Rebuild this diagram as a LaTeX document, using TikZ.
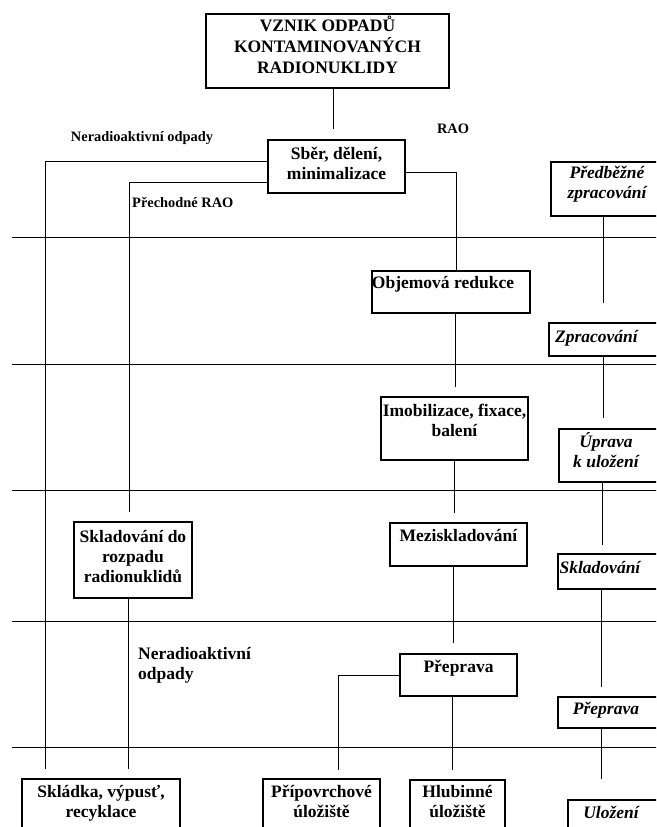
\documentclass[tikz,border=0pt]{standalone}
\usepackage{fontspec}
\setmainfont{Liberation Serif}
\usetikzlibrary{positioning}

\begin{document}
\begin{tikzpicture}[x=1pt, y=-1pt,
    box/.style={draw, rectangle, line width=1.1pt, inner sep=0pt},
    boxtext/.style={font=\bfseries\fontsize{17.5}{20}\selectfont, align=center, anchor=north, inner sep=0pt},
    stagetext/.style={font=\bfseries\itshape\fontsize{17.5}{20}\selectfont, align=center, anchor=north, inner sep=0pt},
    note/.style={font=\bfseries\fontsize{14.4}{17}\selectfont, inner sep=0pt},
    link/.style={line width=1pt},
    level/.style={line width=1pt}]
    \useasboundingbox (0,0) rectangle (656,827);
    \clip (0,0) rectangle (656,827);

    % Stage separators
    \foreach \y in {237,364,490,621,747}
        \draw[level] (12,\y) -- (670,\y);

    % Origin of the waste
    \node[box, minimum width=243pt, minimum height=74pt] (vznik) at (327.5,51) {};
    \node[boxtext, font=\bfseries\fontsize{17.5}{21}\selectfont] (vznik-t) at ([yshift=-2.5pt]vznik.north) {VZNIK ODPADŮ\\KONTAMINOVANÝCH\\RADIONUKLIDY};

    % Collection
    \node[box, minimum width=137pt, minimum height=53pt] (sber) at (336.5,166.5) {};
    \node[boxtext] (sber-t) at ([yshift=-7.5pt]sber.north) {Sběr, dělení,\\minimalizace};

    % Main RAO column
    \node[box, minimum width=158pt, minimum height=42pt] (objem) at (451,292) {};
    \node[boxtext] (objem-t) at ([xshift=-8pt, yshift=-6pt]objem.north) {Objemová redukce};
    \node[box, minimum width=147pt, minimum height=63pt] (imob) at (454.5,428.5) {};
    \node[boxtext] (imob-t) at ([yshift=-7.5pt]imob.north) {Imobilizace, fixace,\\balení};
    \node[box, minimum width=137pt, minimum height=43pt] (mezi) at (458.5,544.5) {};
    \node[boxtext] (mezi-t) at ([yshift=-6.5pt]mezi.north) {Meziskladování};
    \node[box, minimum width=117pt, minimum height=42pt] (prep) at (458.5,675) {};
    \node[boxtext] (prep-t) at ([yshift=-6.5pt]prep.north) {Přeprava};

    % Decay storage
    \node[box, minimum width=118pt, minimum height=76pt] (sklroz) at (133,560) {};
    \node[boxtext] (sklroz-t) at ([yshift=-8.5pt]sklroz.north) {Skladování do\\rozpadu\\radionuklidů};

    % Final destinations
    \node[box, minimum width=158pt, minimum height=66pt] (skladka) at (101,812) {};
    \node[boxtext] (skladka-t) at ([yshift=-6.5pt]skladka.north) {Skládka, výpusť,\\recyklace};
    \node[box, minimum width=117pt, minimum height=66pt] (pripovrch) at (321.5,812) {};
    \node[boxtext] (pripovrch-t) at ([yshift=-6.5pt]pripovrch.north) {Přípovrchové\\úložiště};
    \node[box, minimum width=95pt, minimum height=65pt] (hlub) at (457.5,812.5) {};
    \node[boxtext] (hlub-t) at ([yshift=-5.5pt]hlub.north) {Hlubinné\\úložiště};

    % Stage names on the right (cut by the page edge)
    \node[box, minimum width=139pt, minimum height=54pt] (predb) at (620.5,189) {};
    \node[stagetext] (predb-t) at ([xshift=-13.5pt, yshift=-4.5pt]predb.north) {Předběžné\\zpracování};
    \node[box, minimum width=141pt, minimum height=33pt] (zprac) at (619.5,339.5) {};
    \node[stagetext] (zprac-t) at ([xshift=-23pt, yshift=-7.5pt]zprac.north) {Zpracování};
    \node[box, minimum width=131pt, minimum height=53pt] (uprava) at (624.5,455.5) {};
    \node[stagetext] (uprava-t) at ([xshift=-18.5pt, yshift=-4pt]uprava.north) {Úprava\\k uložení};
    \node[box, minimum width=132pt, minimum height=35pt] (sklad) at (624,571.5) {};
    \node[stagetext] (sklad-t) at ([xshift=-24pt, yshift=-7.5pt]sklad.north) {Skladování};
    \node[box, minimum width=132pt, minimum height=31pt] (prepr) at (624,712.5) {};
    \node[stagetext] (prepr-t) at ([xshift=-18pt, yshift=-5.5pt]prepr.north) {Přeprava};
    \node[box, minimum width=122pt, minimum height=45pt] (ulozeni) at (629,822.5) {};
    \node[stagetext] (ulozeni-t) at ([xshift=-18pt, yshift=-6.5pt]ulozeni.north) {Uložení};

    % Branch labels
    \node[note] (nerad) at (142,138) {Neradioaktivní odpady};
    \node[note] (rao) at (453,129) {RAO};
    \node[note, anchor=west] (prech) at (132,202) {Přechodné RAO};
    \node[note, font=\bfseries\fontsize{17.5}{20}\selectfont, align=left, anchor=west] (nerad-dole) at (138,665) {Neradioaktivní\\odpady};

    % Open ends of the connectors
    \coordinate (vznik-end) at (333,129);
    \coordinate (waste-end) at (45,769);
    \coordinate (decay-end) at (129,512);
    \coordinate (objem-end) at (455,387);
    \coordinate (imob-end) at (454,513);
    \coordinate (mezi-end) at (453,643);
    \coordinate (prep-end) at (452,770);
    \coordinate (near-end) at (338,770);
    \coordinate (sklroz-end) at (128,769);
    \coordinate (predb-end) at (603,303);
    \coordinate (zprac-end) at (603,418);
    \coordinate (uprava-end) at (602,545);
    \coordinate (sklad-end) at (601,687);
    \coordinate (prepr-end) at (601,779);

    % Connectors
    \draw[link] (vznik.south -| vznik-end) -- (vznik-end);
    \draw[link] (sber.west |- 0,161) -| (waste-end);
    \draw[link] (sber.west |- 0,182) -| (decay-end);
    \draw[link] (sber.east |- 0,172) -| (objem.north -| 456,0);
    \draw[link] (objem.south -| objem-end) -- (objem-end);
    \draw[link] (imob.south -| imob-end) -- (imob-end);
    \draw[link] (mezi.south -| mezi-end) -- (mezi-end);
    \draw[link] (prep.south -| prep-end) -- (prep-end);
    \draw[link] (prep.west) -| (near-end);
    \draw[link] (sklroz.south -| sklroz-end) -- (sklroz-end);
    \draw[link] (predb.south -| predb-end) -- (predb-end);
    \draw[link] (zprac.south -| zprac-end) -- (zprac-end);
    \draw[link] (uprava.south -| uprava-end) -- (uprava-end);
    \draw[link] (sklad.south -| sklad-end) -- (sklad-end);
    \draw[link] (prepr.south -| prepr-end) -- (prepr-end);
\end{tikzpicture}
\end{document}
